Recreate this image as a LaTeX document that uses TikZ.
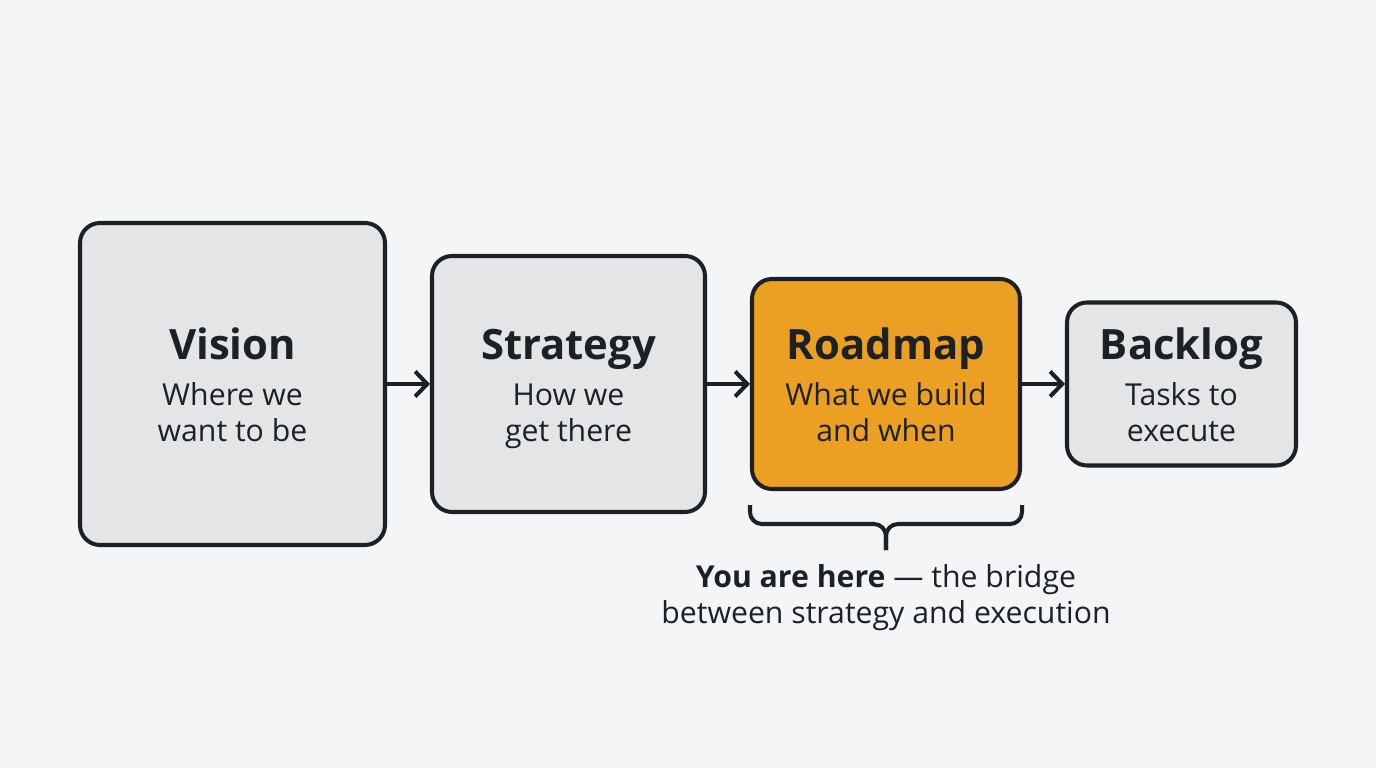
\documentclass[tikz,border=0pt]{standalone}
\usepackage{fontspec}
\setmainfont{Open Sans}
\usetikzlibrary{arrows.meta}

\definecolor{bgcol}{HTML}{F4F5F7}
\definecolor{boxgray}{HTML}{E4E5E7}
\definecolor{roadorange}{HTML}{EBA023}
\definecolor{linecol}{HTML}{1D2125}

\tikzset{
  stage/.style={draw=linecol, line width=1.15pt, rounded corners=0.2cm, fill=boxgray, inner sep=0pt},
  ttl/.style={font=\fontsize{11.9}{14}\selectfont\bfseries, text=linecol, inner sep=0pt, text height=0.72em, text depth=0pt},
  sub/.style={font=\fontsize{8.6}{10.2}\selectfont, text=linecol, align=center, inner sep=0pt},
  flow/.style={draw=linecol, line width=1.15pt, -{Straight Barb[length=1.2mm,width=2.5mm]}},
}

\begin{document}
\begin{tikzpicture}

      \fill[bgcol] (0,0) rectangle (13.76,7.68);
      \useasboundingbox (0,0) rectangle (13.76,7.68);

      \node[stage, minimum width=3.05cm, minimum height=3.22cm] (vision) at (2.325,3.84) {};
      \node[stage, minimum width=2.73cm, minimum height=2.56cm] (strategy) at (5.685,3.84) {};
      \node[stage, fill=roadorange, minimum width=2.68cm, minimum height=2.10cm] (roadmap) at (8.86,3.84) {};
      \node[stage, minimum width=2.29cm, minimum height=1.63cm] (backlog) at (11.815,3.84) {};

      \node[ttl] (visiont)   at ([yshift=0.37cm]vision.center)   {Vision};
      \node[ttl] (strategyt) at ([yshift=0.37cm]strategy.center) {Strategy};
      \node[ttl] (roadmapt)  at ([yshift=0.37cm]roadmap.center)  {Roadmap};
      \node[ttl] (backlogt)  at ([yshift=0.37cm]backlog.center)  {Backlog};

      \node[sub] (visions)   at ([yshift=-0.28cm]vision.center)   {Where we\\want to be};
      \node[sub] (strategys) at ([yshift=-0.32cm]strategy.center) {How we\\get there};
      \node[sub] (roadmaps)  at ([yshift=-0.28cm]roadmap.center)  {What we build\\and when};
      \node[sub] (backlogs)  at ([yshift=-0.28cm]backlog.center)  {Tasks to\\execute};

      \path (vision)   edge[flow] (strategy);
      \path (strategy) edge[flow] (roadmap);
      \path (roadmap)  edge[flow] (backlog);

      % brace under the roadmap
      \coordinate (bl) at ([yshift=-0.14cm]roadmap.south west);
      \coordinate (br) at ([yshift=-0.14cm]roadmap.south east);
      \coordinate (bm) at ([yshift=-0.33cm]roadmap.south);
      \coordinate (bt) at ([yshift=-0.59cm]roadmap.south);
      \draw[linecol, line width=1.15pt, rounded corners=0.12cm] (bl) -- (bl |- bm) -- (bm) -- (bt);
      \draw[linecol, line width=1.15pt, rounded corners=0.12cm] (br) -- (br |- bm) -- (bm) -- (bt);

      \node[sub] (here) at (8.86,1.70) {\textbf{You are here} --- the bridge\\between strategy and execution};

\end{tikzpicture}
\end{document}
